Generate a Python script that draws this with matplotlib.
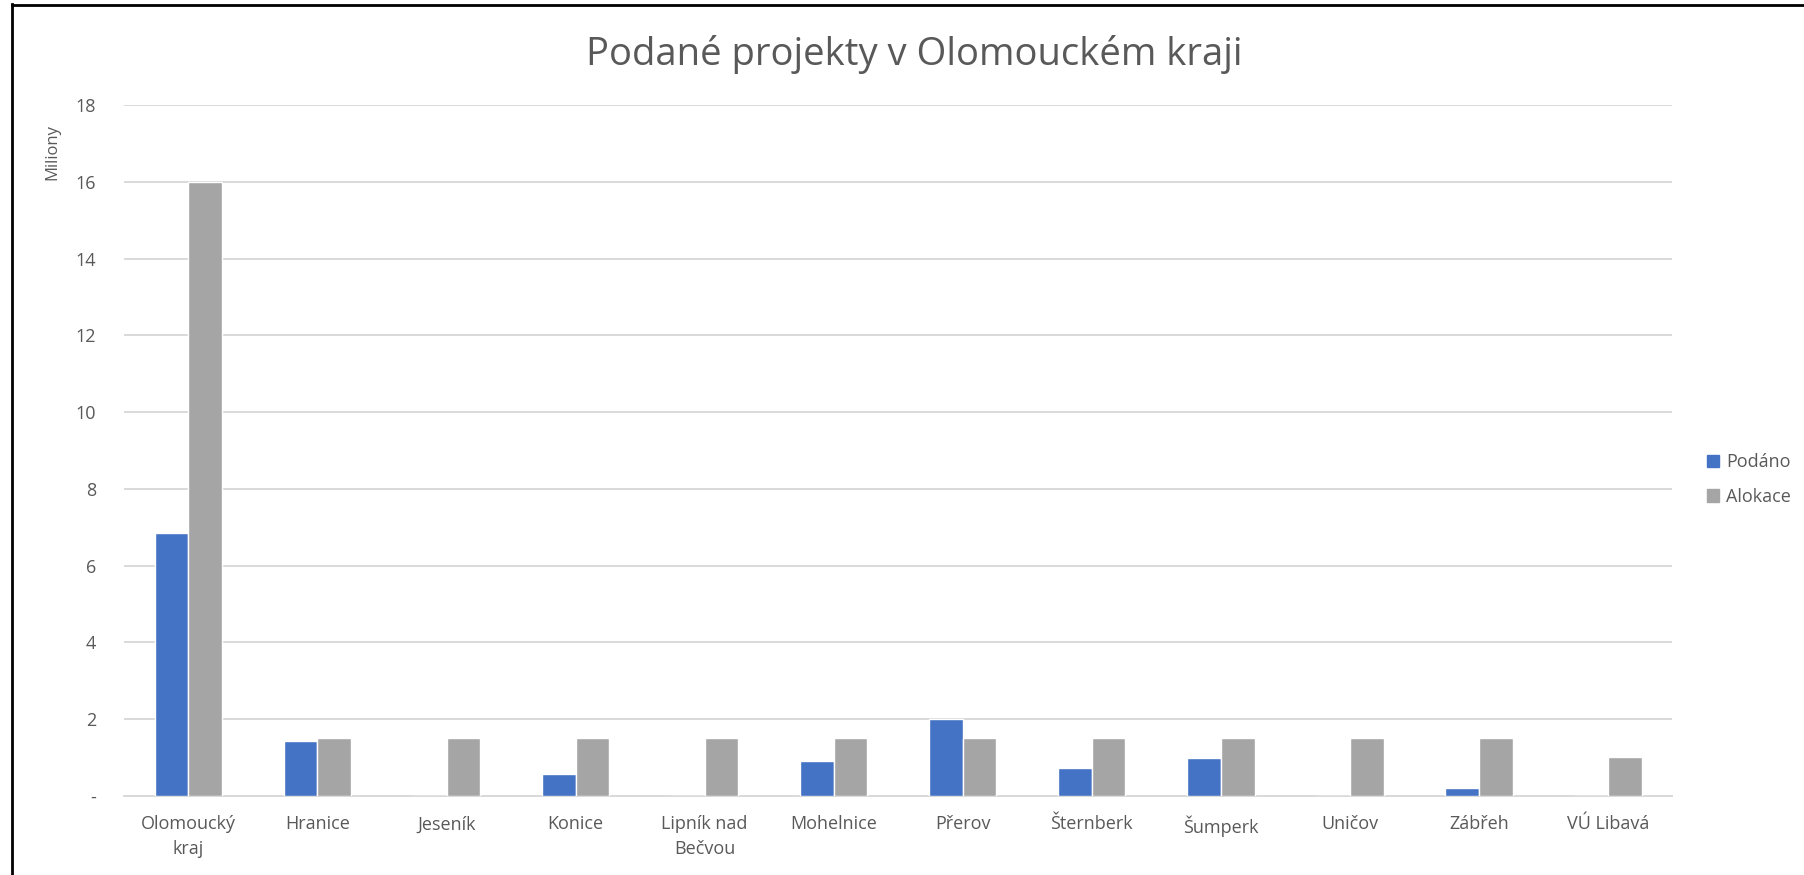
import matplotlib
matplotlib.use('Agg')
import matplotlib.pyplot as plt
import matplotlib.patches as patches
from matplotlib.lines import Line2D
import numpy as np

plt.rcParams['font.family'] = ['Open Sans', 'DejaVu Sans']

# Data (millions CZK)
categories = ['Olomoucký\nkraj', 'Hranice', 'Jeseník', 'Konice', 'Lipník nad\nBečvou',
              'Mohelnice', 'Přerov', 'Šternberk', 'Šumperk', 'Uničov', 'Zábřeh', 'VÚ Libavá']
podano = [6.85, 1.44, 0, 0.57, 0, 0.90, 2.0, 0.73, 0.99, 0, 0.20, 0]
alokace = [16.0, 1.5, 1.5, 1.5, 1.5, 1.5, 1.5, 1.5, 1.5, 1.5, 1.5, 1.02]
yticks = [0, 2, 4, 6, 8, 10, 12, 14, 16, 18]
ytick_labels = ['-', '2', '4', '6', '8', '10', '12', '14', '16', '18']

blue = '#4472C4'
grey = '#A5A5A5'
text_col = '#595959'
grid_col = '#D9D9D9'

fig = plt.figure(figsize=(18.04, 8.75), dpi=100)
ax = fig.add_axes([0.0687, 0.0903, 0.8583, 0.7897])

x = np.arange(len(categories))
w = 0.262
ax.bar(x - w / 2, podano, w, color=blue, edgecolor='white', linewidth=1, zorder=3)
ax.bar(x + w / 2, alokace, w, color=grey, edgecolor='white', linewidth=1, zorder=3)

ax.set_xlim(-0.5, len(categories) - 0.5)
ax.set_ylim(0, 18)
ax.set_yticks(yticks)
ax.set_yticklabels(ytick_labels)
ax.set_xticks(x)
ax.set_xticklabels(categories, linespacing=1.45)
ax.tick_params(axis='both', length=0, labelsize=13, colors=text_col)
ax.tick_params(axis='y', pad=20)
ax.tick_params(axis='x', pad=14)
ax.grid(axis='y', color=grid_col, linewidth=1.4, zorder=0)
for s in ['top', 'right', 'left']:
    ax.spines[s].set_visible(False)
ax.spines['bottom'].set_color(grid_col)
ax.spines['bottom'].set_linewidth(1.4)

fig.text(0.507, 0.938, 'Podané projekty v Olomouckém kraji', ha='center', va='center',
         fontsize=27.5, color=text_col)
fig.text(0.029, 0.826, 'Miliony', rotation=90, ha='center', va='center',
         fontsize=12, color=text_col)

handles = [patches.Patch(color=blue, label='Podáno'),
           patches.Patch(color=grey, label='Alokace')]
fig.legend(handles=handles, loc='center left', bbox_to_anchor=(0.937, 0.452),
           frameon=False, fontsize=13, labelcolor=text_col, handlelength=0.7,
           handleheight=0.7, handletextpad=0.4, labelspacing=0.9)

# frame of the screenshot (left and top edges)
fig.add_artist(Line2D([0.0066, 0.0066], [0, 0.995], transform=fig.transFigure,
                      color='black', linewidth=2))
fig.add_artist(Line2D([0.0066, 1], [0.994, 0.994], transform=fig.transFigure,
                      color='black', linewidth=2))

fig.savefig('out.png', dpi=100, facecolor='white')
